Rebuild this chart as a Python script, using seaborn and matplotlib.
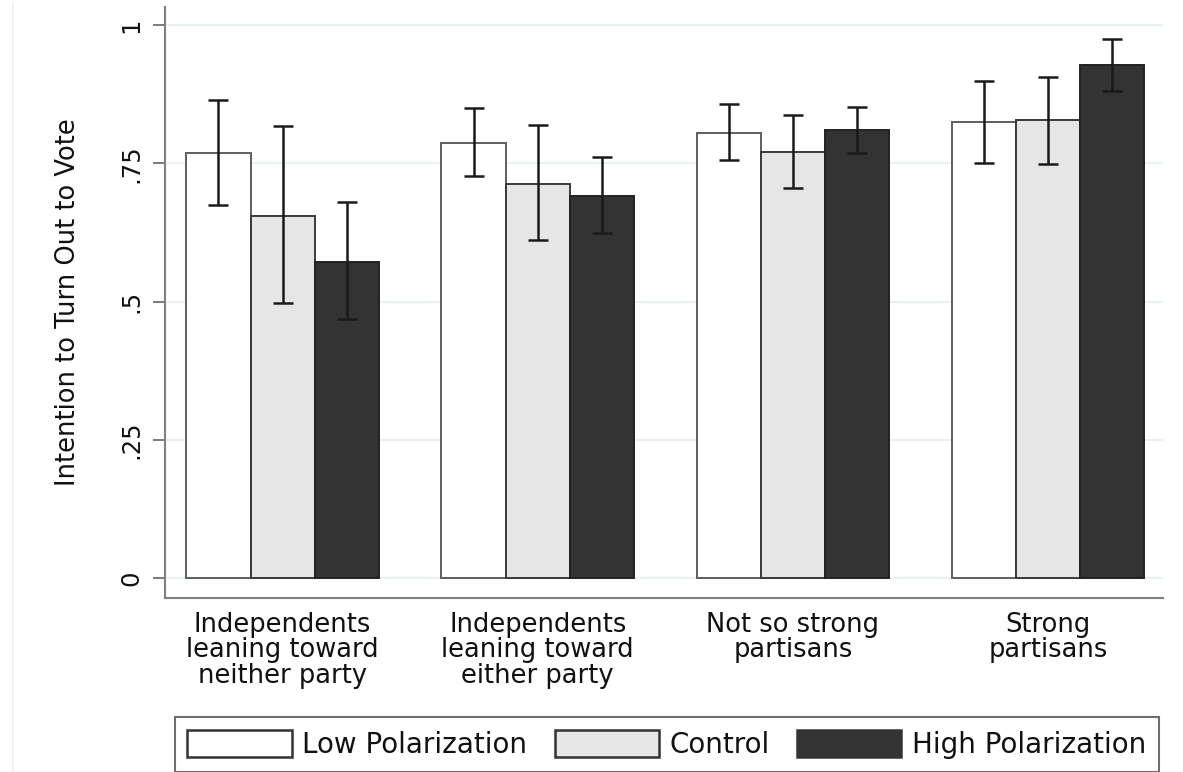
import pandas as pd
import matplotlib.pyplot as plt
import seaborn as sns
from matplotlib.patches import Patch
from matplotlib.lines import Line2D

# ── Data ────────────────────────────────────────────────────────────────────────
groups = [
    "Independents\nleaning toward\nneither party",
    "Independents\nleaning toward\neither party",
    "Not so strong\npartisans",
    "Strong\npartisans",
]
conditions = ["Low Polarization", "Control", "High Polarization"]

low_mean  = [0.769, 0.787, 0.805, 0.825]
low_lo    = [0.674, 0.727, 0.756, 0.750]
low_hi    = [0.864, 0.850, 0.857, 0.899]

ctrl_mean = [0.655, 0.712, 0.770, 0.828]
ctrl_lo   = [0.497, 0.611, 0.705, 0.749]
ctrl_hi   = [0.817, 0.819, 0.837, 0.906]

high_mean = [0.571, 0.691, 0.810, 0.929]
high_lo   = [0.468, 0.624, 0.769, 0.882]
high_hi   = [0.680, 0.761, 0.852, 0.976]

yticks = [0, 0.25, 0.5, 0.75, 1]
ytick_labels = ["0", ".25", ".5", ".75", "1"]

fills = ["#FFFFFF", "#E6E6E6", "#333333"]
edges = ["#5E5E5E", "#3A3A3A", "#222222"]

# long-form table for seaborn
means = [low_mean, ctrl_mean, high_mean]
los = [low_lo, ctrl_lo, high_lo]
his = [low_hi, ctrl_hi, high_hi]
df = pd.DataFrame({
    "group": [g for _ in conditions for g in groups],
    "condition": [c for c in conditions for _ in groups],
    "value": [v for m in means for v in m],
})

# ── Setup ───────────────────────────────────────────────────────────────────────
sns.set_theme(style="white")
plt.rcParams["font.family"] = ["DejaVu Sans"]
plt.rcParams["text.color"] = "#111111"
plt.rcParams["axes.labelcolor"] = "#111111"
plt.rcParams["xtick.color"] = "#111111"
plt.rcParams["ytick.color"] = "#111111"

fig = plt.figure(figsize=(11.83, 7.72), dpi=100)
ax = fig.add_axes([0.1395, 0.2254, 0.8436, 0.7655])

# faint left border of the graph region
fig.add_artist(Line2D([0.011, 0.011], [0.0, 0.997], transform=fig.transFigure,
                      color="#EAF2F4", linewidth=1.2))

sns.barplot(data=df, x="group", y="value", hue="condition",
            order=groups, hue_order=conditions, palette=fills,
            errorbar=None, width=0.755, gap=0, legend=False,
            linewidth=1.4, ax=ax, zorder=2)

# bar edges + confidence intervals
bar_conts = list(ax.containers)
for i, cont in enumerate(bar_conts):
    for j, bar in enumerate(cont):
        bar.set_edgecolor(edges[i])
        xc = bar.get_x() + bar.get_width() / 2
        m = means[i][j]
        ax.errorbar(xc, m, yerr=[[m - los[i][j]], [his[i][j] - m]],
                    fmt="none", ecolor="#1A1A1A", elinewidth=1.8,
                    capsize=7.5, capthick=1.8, zorder=3)

# axes styling
ax.set_xlim(-0.461, 3.451)
ax.set_ylim(-0.036, 1.033)
ax.set_yticks(yticks)
ax.set_yticklabels(ytick_labels, rotation=90, va="center", fontsize=17.5)
ax.yaxis.grid(True, color="#E8F1F3", linewidth=1.5, zorder=0)
ax.set_axisbelow(True)
for s in ["top", "right"]:
    ax.spines[s].set_visible(False)
for s in ["left", "bottom"]:
    ax.spines[s].set_color("#808080")
    ax.spines[s].set_linewidth(1.5)
ax.tick_params(axis="y", length=8.5, width=1.3, color="#707070", pad=7,
               left=True)
ax.tick_params(axis="x", length=0, pad=10, labelsize=18.5)
for lab in ax.get_xticklabels():
    lab.set_linespacing(0.97)

ax.set_xlabel("")
ax.set_ylabel("Intention to Turn Out to Vote", fontsize=18.5)
ax.yaxis.set_label_coords(-0.084, 0.5)

# legend below, boxed, three columns
handles = [Patch(facecolor=f, edgecolor="#333333", linewidth=1.8) for f in fills]
leg = fig.legend(handles, conditions, loc="center", bbox_to_anchor=(0.5635, 0.0356),
                 ncol=3, fontsize=20, frameon=True, fancybox=False,
                 handlelength=3.75, handleheight=1.12, handletextpad=0.37,
                 columnspacing=1.0, borderpad=0.46, borderaxespad=0)
leg.get_frame().set_edgecolor("#4A4A4A")
leg.get_frame().set_linewidth(1.5)

plt.savefig("out.png", dpi=100)
plt.close(fig)
